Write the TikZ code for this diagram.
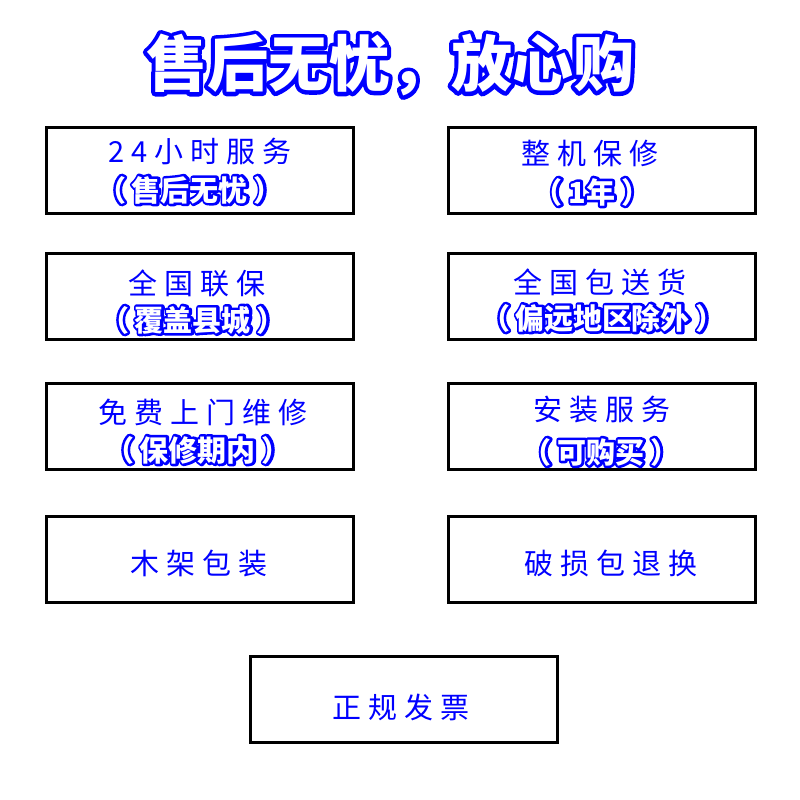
\documentclass[tikz,border=0pt]{standalone}
\usepackage{fontspec}
\newfontfamily\cjk{Noto Sans CJK SC}
\newfontfamily\cjkS{Noto Sans CJK SC}[LetterSpace=24]
\newcommand\olt[2]{\rlap{\color{blue}\special{pdf:literal direct 1 j 1 J #1 w 2 Tr}#2\special{pdf:literal direct 0 Tr 1 w 0 j 0 J}}{\color{white}#2}}
\newcommand\paren[1]{（\kern6pt #1\kern6pt ）}
\begin{document}
\begin{tikzpicture}[x=1pt,y=-1pt,
  box/.style={draw=black,line width=3pt,minimum width=307pt,minimum height=86pt,inner sep=0pt},
  lineone/.style={text=blue,inner sep=0pt,font=\fontsize{29}{30}\selectfont\cjkS},
  linetwo/.style={inner sep=0pt,font=\fontsize{29}{30}\selectfont\cjk\bfseries},
  ttl/.style={inner sep=0pt,font=\fontsize{61}{64}\selectfont\cjk\bfseries}]
\fill[white] (0,0) rectangle (800,800);
\useasboundingbox (0,0) rectangle (800,800);
\node[ttl] (title) at (390,65) {\olt{8}{售后无忧，放心购}};
% row 1
\node[box] (b1) at (200,170) {};
\node[lineone] (t1a) at (200,151) {24小时服务};
\node[linetwo] (t1b) at (190,190) {\olt{5}{\paren{售后无忧}}};
\node[box] (b2) at (602,170) {};
\node[lineone] (t2a) at (590,153) {整机保修};
\node[linetwo] (t2b) at (592,192) {\olt{5}{\paren{1年}}};
% row 2
\node[box] (b3) at (200,296) {};
\node[lineone] (t3a) at (197,283) {全国联保};
\node[linetwo] (t3b) at (193,320) {\olt{5}{\paren{覆盖县城}}};
\node[box] (b4) at (602,296) {};
\node[lineone] (t4a) at (600,282) {全国包送货};
\node[linetwo] (t4b) at (603,318) {\olt{5}{\paren{偏远地区除外}}};
% row 3
\node[box] (b5) at (200,426) {};
\node[lineone] (t5a) at (203,412) {免费上门维修};
\node[linetwo] (t5b) at (198,450) {\olt{5}{\paren{保修期内}}};
\node[box] (b6) at (602,426) {};
\node[lineone] (t6a) at (602,410) {安装服务};
\node[linetwo] (t6b) at (601,452) {\olt{5}{\paren{可购买}}};
% row 4
\node[box] (b7) at (200,559) {};
\node[lineone] (t7a) at (199,563) {木架包装};
\node[box] (b8) at (602,559) {};
\node[lineone] (t8a) at (611,563) {破损包退换};
% row 5
\node[box] (b9) at (403.5,699) {};
\node[lineone] (t9a) at (401,707) {正规发票};
\end{tikzpicture}
\end{document}
